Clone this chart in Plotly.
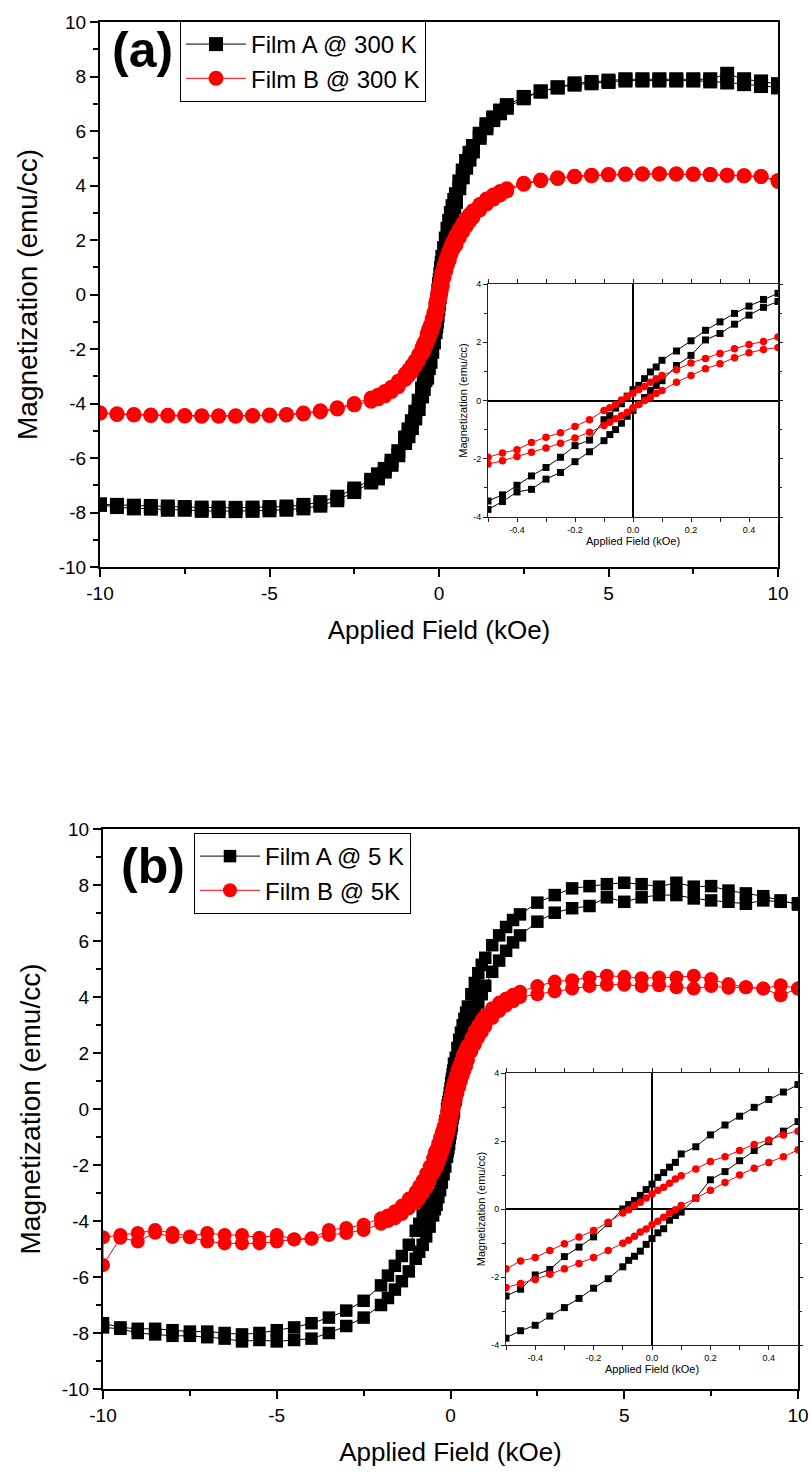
import plotly.graph_objects as go

W, H = 811, 1473

# ---------------- data ----------------
field_kOe = [
    -10, -9.5, -9, -8.5, -8, -7.5, -7, -6.5, -6, -5.5, -5, -4.5, -4, -3.5, -3, -2.5,
    -2.0, -1.8, -1.6, -1.4, -1.2, -1.0, -0.9, -0.8, -0.7, -0.6,
    -0.5, -0.45, -0.4, -0.35, -0.3, -0.25, -0.2, -0.15, -0.1, -0.08, -0.06, -0.04, -0.02,
    0.0, 0.02, 0.04, 0.06, 0.08, 0.1, 0.15, 0.2, 0.25, 0.3, 0.35, 0.4, 0.45, 0.5,
    0.6, 0.7, 0.8, 0.9, 1.0, 1.2, 1.4, 1.6, 1.8, 2.0,
    2.5, 3, 3.5, 4, 4.5, 5, 5.5, 6, 6.5, 7, 7.5, 8, 8.5, 9, 9.5, 10,
]

# Panel (a): 300 K. "desc" = branch coming down from +10 kOe, "asc" = branch going up from -10 kOe
filmA_300K_desc = [
    -7.70, -7.72, -7.75, -7.76, -7.78, -7.80, -7.82, -7.82, -7.83, -7.82, -7.80, -7.78, -7.72, -7.62, -7.42, -7.12,
    -6.80, -6.60, -6.40, -6.10, -5.75, -5.25, -4.95, -4.65, -4.30, -3.90,
    -3.45, -3.24, -2.91, -2.59, -2.30, -1.95, -1.55, -1.36, -0.66, -0.52, -0.26, -0.11, 0.15,
    0.37, 0.52, 0.75, 0.98, 1.15, 1.38, 1.70, 2.05, 2.41, 2.70, 2.99, 3.24, 3.47, 3.68,
    4.15, 4.55, 4.90, 5.20, 5.45, 5.90, 6.25, 6.50, 6.75, 6.95,
    7.25, 7.45, 7.60, 7.70, 7.75, 7.80, 7.85, 7.85, 7.85, 7.85, 7.85, 7.82, 7.78, 7.72, 7.65, 7.60,
]
filmA_300K_asc = [
    -7.72, -7.80, -7.85, -7.86, -7.90, -7.90, -7.94, -7.95, -7.95, -7.94, -7.92, -7.90, -7.85, -7.75, -7.55, -7.25,
    -6.90, -6.75, -6.50, -6.25, -5.90, -5.45, -5.20, -4.90, -4.55, -4.20,
    -3.74, -3.47, -3.14, -3.05, -2.70, -2.47, -2.10, -1.76, -1.38, -1.17, -1.00, -0.78, -0.54,
    -0.34, -0.10, 0.10, 0.34, 0.52, 0.68, 1.20, 1.55, 2.08, 2.30, 2.62, 2.93, 3.20, 3.40,
    3.90, 4.30, 4.65, 4.95, 5.25, 5.75, 6.10, 6.40, 6.65, 6.85,
    7.20, 7.45, 7.60, 7.75, 7.80, 7.85, 7.90, 7.90, 7.90, 7.90, 7.90, 7.90, 8.10, 7.90, 7.82, 7.72,
]
filmB_300K_desc = [
    -4.35, -4.38, -4.40, -4.42, -4.43, -4.44, -4.45, -4.45, -4.45, -4.44, -4.42, -4.40, -4.35, -4.27, -4.16, -4.00,
    -3.80, -3.70, -3.56, -3.40, -3.18, -2.92, -2.77, -2.60, -2.42, -2.20,
    -1.95, -1.80, -1.69, -1.44, -1.26, -1.11, -0.89, -0.66, -0.34, -0.25, -0.14, 0.02, 0.14,
    0.25, 0.38, 0.48, 0.63, 0.75, 0.86, 1.06, 1.29, 1.44, 1.61, 1.78, 1.92, 2.03, 2.18,
    2.40, 2.60, 2.78, 2.93, 3.07, 3.30, 3.50, 3.65, 3.78, 3.88,
    4.08, 4.20, 4.28, 4.34, 4.38, 4.40, 4.42, 4.42, 4.43, 4.42, 4.42, 4.40, 4.38, 4.36, 4.33, 4.15,
]
filmB_300K_asc = [
    -4.35, -4.40, -4.42, -4.44, -4.45, -4.46, -4.47, -4.47, -4.47, -4.46, -4.44, -4.42, -4.38, -4.30, -4.20, -4.05,
    -3.92, -3.83, -3.72, -3.56, -3.38, -3.12, -2.98, -2.82, -2.63, -2.42,
    -2.18, -2.07, -1.92, -1.78, -1.63, -1.47, -1.29, -1.09, -0.86, -0.75, -0.63, -0.52, -0.40,
    -0.25, -0.14, 0.00, 0.11, 0.25, 0.34, 0.63, 0.86, 1.09, 1.26, 1.47, 1.64, 1.75, 1.82,
    2.08, 2.30, 2.50, 2.68, 2.83, 3.10, 3.32, 3.50, 3.65, 3.80,
    4.05, 4.18, 4.26, 4.32, 4.36, 4.39, 4.41, 4.42, 4.42, 4.42, 4.41, 4.40, 4.38, 4.36, 4.33, 4.18,
]

# Panel (b): 5 K
filmA_5K_desc = [
    -7.65, -7.80, -7.85, -7.85, -7.90, -7.95, -7.95, -8.00, -8.05, -8.00, -7.90, -7.80, -7.65, -7.45, -7.20, -6.85,
    -6.30, -5.95, -5.60, -5.25, -4.85, -4.35, -4.10, -3.80, -3.45, -3.05,
    -2.56, -2.36, -1.94, -1.78, -1.40, -1.12, -0.82, -0.43, 0.00, 0.13, 0.25, 0.40, 0.57,
    0.73, 0.93, 1.07, 1.23, 1.37, 1.62, 1.83, 2.18, 2.47, 2.73, 2.99, 3.22, 3.44, 3.66,
    4.10, 4.50, 4.85, 5.15, 5.40, 5.85, 6.20, 6.50, 6.75, 6.95,
    7.37, 7.64, 7.88, 7.96, 8.03, 8.08, 8.03, 7.94, 8.08, 7.94, 7.96, 7.80, 7.70, 7.60, 7.45, 7.30,
]
filmA_5K_asc = [
    -7.80, -7.85, -8.00, -8.05, -8.10, -8.10, -8.15, -8.20, -8.30, -8.25, -8.30, -8.25, -8.20, -8.00, -7.75, -7.45,
    -7.00, -6.75, -6.45, -6.15, -5.80, -5.35, -5.10, -4.85, -4.55, -4.20,
    -3.80, -3.58, -3.42, -3.15, -2.90, -2.63, -2.33, -2.05, -1.70, -1.51, -1.39, -1.24, -1.04,
    -0.87, -0.70, -0.58, -0.33, -0.19, -0.09, 0.32, 0.86, 1.10, 1.42, 1.72, 1.98, 2.29, 2.57,
    3.05, 3.45, 3.80, 4.10, 4.40, 4.90, 5.30, 5.65, 5.95, 6.20,
    6.69, 7.01, 7.17, 7.25, 7.56, 7.40, 7.56, 7.64, 7.64, 7.52, 7.45, 7.40, 7.33, 7.45, 7.40, 7.35,
]
filmB_5K_desc = [
    -4.58, -4.50, -4.43, -4.32, -4.43, -4.55, -4.43, -4.50, -4.50, -4.60, -4.50, -4.65, -4.62, -4.32, -4.25, -4.13,
    -3.90, -3.80, -3.65, -3.45, -3.20, -2.95, -2.75, -2.55, -2.30, -2.05,
    -1.76, -1.53, -1.43, -1.22, -1.02, -0.82, -0.63, -0.39, -0.12, -0.02, 0.10, 0.20, 0.32,
    0.44, 0.55, 0.64, 0.76, 0.88, 0.98, 1.18, 1.40, 1.54, 1.72, 1.90, 2.03, 2.18, 2.29,
    2.55, 2.80, 3.00, 3.20, 3.35, 3.60, 3.80, 3.95, 4.08, 4.19,
    4.39, 4.55, 4.60, 4.70, 4.76, 4.72, 4.67, 4.70, 4.70, 4.76, 4.64, 4.46, 4.35, 4.30, 4.42, 4.30,
]
filmB_5K_asc = [
    -5.57, -4.60, -4.73, -4.42, -4.57, -4.58, -4.73, -4.80, -4.80, -4.80, -4.73, -4.66, -4.64, -4.50, -4.43, -4.32,
    -4.10, -4.00, -3.90, -3.75, -3.55, -3.35, -3.20, -3.02, -2.82, -2.58,
    -2.31, -2.19, -2.07, -1.92, -1.76, -1.60, -1.43, -1.22, -1.01, -0.92, -0.80, -0.68, -0.59,
    -0.46, -0.36, -0.24, -0.12, -0.02, 0.10, 0.32, 0.55, 0.78, 1.00, 1.20, 1.37, 1.54, 1.74,
    2.05, 2.30, 2.55, 2.75, 2.95, 3.25, 3.50, 3.70, 3.85, 4.00,
    4.10, 4.20, 4.30, 4.39, 4.44, 4.44, 4.39, 4.42, 4.35, 4.30, 4.39, 4.33, 4.35, 4.30, 4.06, 4.30,
]

main_ticks_x = [-10, -5, 0, 5, 10]
main_ticktext_x = ["-10", "-5", "0", "5", "10"]
main_ticks_y = [-10, -8, -6, -4, -2, 0, 2, 4, 6, 8, 10]
main_ticktext_y = ["-10", "-8", "-6", "-4", "-2", "0", "2", "4", "6", "8", "10"]
inset_ticks_x = [-0.4, -0.2, 0.0, 0.2, 0.4]
inset_ticktext_x = ["-0.4", "-0.2", "0.0", "0.2", "0.4"]
inset_ticks_y = [-4, -2, 0, 2, 4]
inset_ticktext_y = ["-4", "-2", "0", "2", "4"]

labels_a = ["Film A @ 300 K", "Film B @ 300 K"]
labels_b = ["Film A @ 5 K", "Film B @ 5K"]

FONT = "Arial, 'Liberation Sans', sans-serif"
BLACK = "#000000"
RED = "#ff0000"


def loop(desc, asc):
    xs = list(reversed(field_kOe)) + list(field_kOe)
    ys = list(reversed(desc)) + list(asc)
    return xs, ys


def px_x(p):
    return p / W


def px_y(p):
    return 1 - p / H


fig = go.Figure()

panels = [
    dict(data=[(filmA_300K_desc, filmA_300K_asc), (filmB_300K_desc, filmB_300K_asc)],
         labels=labels_a, main=("x", "y"), inset=("x2", "y2"), legend="legend", msizes=[14, 15]),
    dict(data=[(filmA_5K_desc, filmA_5K_asc), (filmB_5K_desc, filmB_5K_asc)],
         labels=labels_b, main=("x3", "y3"), inset=("x4", "y4"), legend="legend2", msizes=[12.5, 14]),
]

for p in panels:
    for (desc, asc), name, color, symbol, msize in zip(
            p["data"], p["labels"], [BLACK, RED], ["square", "circle"], p["msizes"]):
        xs, ys = loop(desc, asc)
        fig.add_trace(go.Scatter(
            x=xs, y=ys, name=name, mode="lines+markers",
            xaxis=p["main"][0], yaxis=p["main"][1], legend=p["legend"],
            line=dict(color=color, width=1),
            marker=dict(symbol=symbol, size=msize, color=color, line=dict(width=0)),
        ))
    for (desc, asc), color, symbol, msize in zip(
            p["data"], [BLACK, RED], ["square", "circle"], [7, 7.5]):
        xs, ys = loop(desc, asc)
        fig.add_trace(go.Scatter(
            x=xs, y=ys, mode="lines+markers", showlegend=False,
            xaxis=p["inset"][0], yaxis=p["inset"][1],
            line=dict(color=color, width=1),
            marker=dict(symbol=symbol, size=msize, color=color, line=dict(width=0)),
        ))


def main_x(domain, anchor):
    return dict(domain=domain, anchor=anchor, range=[-10, 10], automargin=False,
                tickvals=main_ticks_x, ticktext=main_ticktext_x,
                showline=True, linecolor=BLACK, linewidth=2, mirror=True,
                ticks="outside", ticklen=8, tickwidth=2, tickcolor=BLACK,
                minor=dict(ticks="outside", ticklen=5, tickwidth=2, tickcolor=BLACK, dtick=2.5),
                showgrid=False, zeroline=False,
                tickfont=dict(family=FONT, size=19, color=BLACK),
                title=dict(text="Applied Field (kOe)", font=dict(family=FONT, size=26, color=BLACK),
                           standoff=18))


def main_y(domain, anchor):
    return dict(domain=domain, anchor=anchor, range=[-10, 10], automargin=False,
                tickvals=main_ticks_y, ticktext=main_ticktext_y,
                showline=True, linecolor=BLACK, linewidth=2, mirror=True,
                ticks="outside", ticklen=8, tickwidth=2, tickcolor=BLACK,
                minor=dict(ticks="outside", ticklen=5, tickwidth=2, tickcolor=BLACK, dtick=1),
                showgrid=False, zeroline=False,
                tickfont=dict(family=FONT, size=19, color=BLACK),
                title=dict(text="Magnetization (emu/cc)", font=dict(family=FONT, size=28, color=BLACK),
                           standoff=13))


def inset_x(domain, anchor):
    return dict(domain=domain, anchor=anchor, range=[-0.5, 0.5], automargin=False,
                tickvals=inset_ticks_x, ticktext=inset_ticktext_x,
                showline=True, linecolor="#222222", linewidth=1, mirror="allticks",
                ticks="outside", ticklen=4, tickwidth=1, tickcolor="#222222",
                minor=dict(ticks="outside", ticklen=4, tickwidth=1, tickcolor="#222222", dtick=0.1),
                showgrid=False, zeroline=True, zerolinecolor=BLACK, zerolinewidth=1.5,
                tickfont=dict(family=FONT, size=9, color=BLACK),
                title=dict(text="Applied Field (kOe)", font=dict(family=FONT, size=11, color=BLACK),
                           standoff=3))


def inset_y(domain, anchor):
    return dict(domain=domain, anchor=anchor, range=[-4, 4], automargin=False,
                tickvals=inset_ticks_y, ticktext=inset_ticktext_y,
                showline=True, linecolor="#222222", linewidth=1, mirror="allticks",
                ticks="outside", ticklen=4, tickwidth=1, tickcolor="#222222",
                minor=dict(ticks="outside", ticklen=3, tickwidth=1, tickcolor="#222222", dtick=1),
                showgrid=False, zeroline=True, zerolinecolor=BLACK, zerolinewidth=1.5,
                tickfont=dict(family=FONT, size=9, color=BLACK),
                title=dict(text="Magnetization (emu/cc)", font=dict(family=FONT, size=11, color=BLACK),
                           standoff=3))


# pixel geometry
A_main_x = [px_x(100), px_x(778)]
A_main_y = [px_y(567), px_y(22)]
A_in_x = [px_x(488), px_x(778)]
A_in_y = [px_y(517), px_y(284)]
B_main_x = [px_x(103), px_x(798)]
B_main_y = [px_y(1389), px_y(829)]
B_in_x = [px_x(506), px_x(798)]
B_in_y = [px_y(1345), px_y(1073)]

legend_style = dict(xanchor="left", yanchor="top", bordercolor=BLACK, borderwidth=1,
                    bgcolor="white", font=dict(family=FONT, size=24, color=BLACK),
                    itemwidth=60, tracegroupgap=0)

fig.update_layout(
    width=W, height=H, autosize=False,
    margin=dict(l=0, r=0, t=0, b=0, pad=0),
    paper_bgcolor="white", plot_bgcolor="white",
    font=dict(family=FONT, color=BLACK),
    xaxis=main_x(A_main_x, "y"), yaxis=main_y(A_main_y, "x"),
    xaxis2=inset_x(A_in_x, "y2"), yaxis2=inset_y(A_in_y, "x2"),
    xaxis3=main_x(B_main_x, "y3"), yaxis3=main_y(B_main_y, "x3"),
    xaxis4=inset_x(B_in_x, "y4"), yaxis4=inset_y(B_in_y, "x4"),
    legend=dict(x=px_x(180), y=px_y(21), **legend_style),
    legend2=dict(x=px_x(194), y=px_y(833), **legend_style),
    annotations=[
        dict(text="<b>(a)</b>", x=px_x(142), y=px_y(50), xref="paper", yref="paper",
             xanchor="center", yanchor="middle",
             showarrow=False, font=dict(family=FONT, size=50, color=BLACK)),
        dict(text="<b>(b)</b>", x=px_x(153), y=px_y(866), xref="paper", yref="paper",
             xanchor="center", yanchor="middle",
             showarrow=False, font=dict(family=FONT, size=50, color=BLACK)),
    ],
)

fig.write_html("out.html")
